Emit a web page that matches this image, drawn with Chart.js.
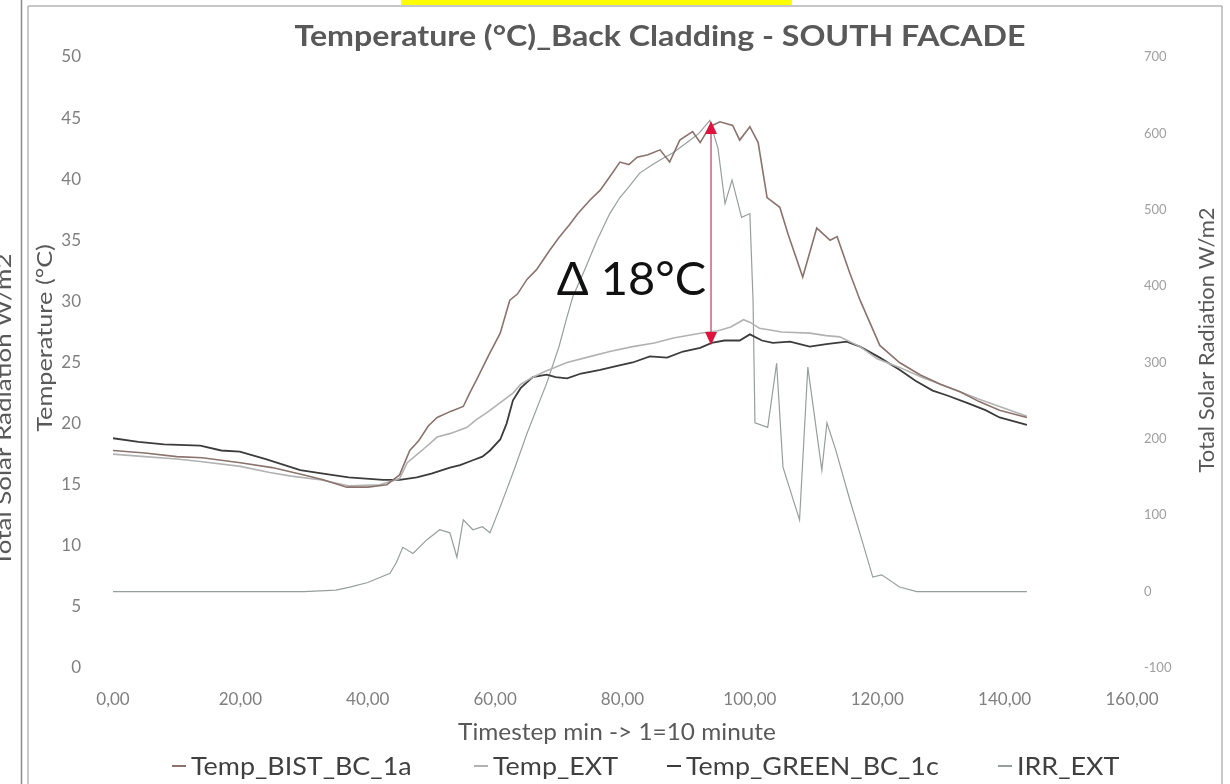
<!DOCTYPE html>
<html>
<head>
<meta charset="utf-8">
<script src="https://cdn.jsdelivr.net/npm/chart.js@4.4.1/dist/chart.umd.min.js"></script>
<style>
  html, body { margin: 0; padding: 0; background: #ffffff; }
  #wrap { position: relative; width: 1230px; height: 784px; overflow: hidden; }
  canvas { display: block; }
  .flag { position: absolute; left: 401px; top: 0; width: 391px; height: 5px; background: #ffff00; }
</style>
</head>
<body>
<div id="wrap">
  <canvas id="chart" width="1230" height="784"></canvas>
  <div class="flag"></div>
</div>
<script>
// Axis ranges and tick steps
const stepMin = 0, stepMax = 160, stepTick = 20;
const tempMin = 0, tempMax = 50, tempTick = 5;
const irrMin = -100, irrMax = 700, irrTick = 100;

const seriesNames = ['Temp_BIST_BC_1a', 'Temp_EXT', 'Temp_GREEN_BC_1c', 'IRR_EXT'];

// Temp_BIST_BC_1a : back cladding temperature (°C)
const bistStep = [0, 5, 10, 14, 20, 25, 30, 33, 36.7, 40, 43, 45, 46.6, 48, 49.5, 50.9, 53, 55, 56, 57.1,
  59, 60.8, 62.3, 63.5, 65, 66.5, 68.6, 70, 71.7, 73, 74.9, 76.5, 78, 79.6, 81, 82.3, 84, 85.9, 87.4, 89,
  91, 92.2, 93.7, 95.3, 97.3, 98.4, 100, 101.3, 102.7, 104.7, 106, 108.3, 110.5, 112.6, 113.7, 115.7,
  117.3, 120.4, 123.5, 126.7, 130, 133, 136, 139.2, 143.5];
const bistTemp = [17.8, 17.6, 17.3, 17.2, 16.8, 16.4, 15.8, 15.4, 14.8, 14.8, 15.0, 15.8, 17.8, 18.6, 19.8, 20.5, 21.0, 21.4, 22.5, 23.6,
  25.6, 27.4, 30.1, 30.6, 31.8, 32.6, 34.2, 35.2, 36.3, 37.2, 38.3, 39.1, 40.2, 41.4, 41.2, 41.8, 42.0, 42.4, 41.4, 43.2,
  43.9, 43.0, 44.3, 44.7, 44.4, 43.2, 44.3, 43.0, 38.5, 37.7, 35.5, 32.0, 36.0, 35.0, 35.3, 32.3,
  30.1, 26.4, 25.0, 24.0, 23.2, 22.6, 21.8, 21.1, 20.5];

// Temp_EXT : outdoor air temperature (°C)
const extStep = [0, 5, 10, 13.7, 20, 24.6, 28, 32.5, 37.2, 41.9, 45, 46.2, 48.5, 50.9, 53, 55.6, 57, 58.7,
  60.5, 62.8, 64, 65.9, 68, 71.3, 75, 78, 81.6, 85, 88, 92.2, 95, 97, 99, 100, 101.5, 102.7, 105, 109.4,
  112, 114.1, 117.3, 120, 123.5, 127, 130, 133, 136, 139.2, 143.5];
const extTemp = [17.5, 17.3, 17.1, 16.9, 16.5, 16.0, 15.7, 15.4, 14.9, 15.0, 15.5, 16.8, 17.8, 18.9, 19.2, 19.7, 20.3, 20.9,
  21.6, 22.5, 23.2, 23.8, 24.3, 25.0, 25.5, 25.9, 26.3, 26.6, 27.0, 27.4, 27.6, 27.9, 28.5, 28.3, 27.8, 27.7, 27.5, 27.4,
  27.2, 27.1, 26.3, 25.3, 24.6, 23.8, 23.2, 22.6, 22.0, 21.4, 20.6];

// Temp_GREEN_BC_1c : green back cladding temperature (°C)
const greenStep = [0, 4, 8, 13.7, 17, 19.9, 24, 29.4, 33, 37, 42.4, 45, 47.7, 50, 52.9, 54.5, 56.5, 58, 59.2,
  60.8, 61.8, 62.8, 64, 65.9, 68.1, 69.5, 71.3, 73.5, 76.5, 79, 81.6, 84.3, 87, 89.5, 92.2, 94, 96, 98.4,
  100, 101.9, 103.6, 106.3, 109.4, 112, 115.2, 117.3, 120.4, 123.5, 126, 128.7, 131, 134.1, 137, 139.2, 143.5];
const greenTemp = [18.8, 18.5, 18.3, 18.2, 17.8, 17.7, 17.1, 16.2, 15.9, 15.6, 15.4, 15.4, 15.6, 15.9, 16.4, 16.6, 17.0, 17.3, 17.8,
  18.7, 20.0, 21.9, 22.9, 23.8, 24.0, 23.8, 23.7, 24.1, 24.4, 24.7, 25.0, 25.5, 25.4, 25.9, 26.2, 26.6, 26.8, 26.8,
  27.3, 26.8, 26.6, 26.7, 26.3, 26.5, 26.7, 26.3, 25.4, 24.4, 23.5, 22.7, 22.3, 21.7, 21.1, 20.5, 19.9];

// IRR_EXT : total solar radiation (W/m2)
const irrStep = [0, 10, 20, 30, 35, 37.2, 40, 43.5, 44.5, 45.5, 47.1, 49.3, 51.3, 52.9, 54, 55, 56.5, 58, 59.2,
  60.8, 63, 65, 68.1, 70, 71.3, 72.2, 74, 76, 78, 79.6, 81, 82.7, 84.5, 85.9, 88, 90.6, 92, 93.7, 95, 96.1,
  97.2, 98.7, 100, 100.5, 100.8, 102.8, 104.2, 105.2, 107.8, 109.1, 111.3, 112.1, 113.5, 115.7, 117.5,
  119.3, 120.7, 123.5, 126.2, 130, 135, 140, 143.5];
const irrValue = [0, 0, 0, 0, 2, 6, 12, 24, 38, 58, 50, 68, 81, 77, 45, 94, 81, 85, 77,
  111, 160, 207, 273, 320, 360, 386, 420, 460, 495, 516, 530, 548, 558, 565, 575, 591, 600, 617, 580, 508,
  539, 490, 495, 381, 221, 215, 299, 163, 94, 294, 159, 221, 185, 120, 70,
  19, 22, 6, 0, 0, 0, 0, 0];

// Temperature gap marked between the back claddings
const gapStep = 93.9;
const gapHigh = 44.6;
const gapSize = 18;

const seriesColors = ['#8a736d', '#b2b2b2', '#3c3c3c', '#979f9c'];
const seriesWidths = [1.6, 1.6, 1.8, 1.2];

const toPoints = (xs, ys) => xs.map((x, i) => ({ x: x, y: ys[i] }));

const TEXT_FONT = 'Lato, "Open Sans", sans-serif';

// text drawn with a horizontal stretch along its own direction
function stretchedText(ctx, txt, x, y, sx, angle) {
  ctx.save();
  ctx.translate(x, y);
  if (angle) ctx.rotate(angle);
  ctx.scale(sx, 1);
  ctx.fillText(txt, 0, 0);
  ctx.restore();
}

const decorPlugin = {
  id: 'decor',
  beforeDraw(chart) {
    const ctx = chart.ctx;
    ctx.save();
    ctx.fillStyle = '#ffffff';
    ctx.fillRect(0, 0, chart.width, chart.height);
    ctx.restore();
  },
  afterDraw(chart) {
    const ctx = chart.ctx;
    const xs = chart.scales.x, ys = chart.scales.y;
    ctx.save();

    // frame lines
    ctx.strokeStyle = '#8c8c8c';
    ctx.lineWidth = 1.5;
    ctx.beginPath(); ctx.moveTo(21.5, 0); ctx.lineTo(21.5, chart.height); ctx.stroke();
    ctx.strokeStyle = '#b4b4b4';
    ctx.beginPath(); ctx.moveTo(28, 6); ctx.lineTo(28, chart.height); ctx.stroke();
    ctx.beginPath(); ctx.moveTo(28, 6); ctx.lineTo(1222, 6); ctx.stroke();
    ctx.beginPath(); ctx.moveTo(1222, 6); ctx.lineTo(1222, chart.height); ctx.stroke();

    // chart title
    ctx.fillStyle = '#595959';
    ctx.font = 'bold 28px ' + TEXT_FONT;
    ctx.textAlign = 'center';
    ctx.textBaseline = 'middle';
    stretchedText(ctx, 'Temperature (°C)_Back Cladding - SOUTH FACADE', 660, 37, 1.148);

    // x axis title
    ctx.font = '23px ' + TEXT_FONT;
    stretchedText(ctx, 'Timestep min -> 1=10 minute', 617, 733, 1.06);

    // rotated axis titles
    ctx.font = '22px ' + TEXT_FONT;
    stretchedText(ctx, 'Temperature (°C)', 45, 338, 1.15, -Math.PI / 2);
    stretchedText(ctx, 'Total Solar Radiation W/m2', 1207, 340, 1.0, -Math.PI / 2);
    stretchedText(ctx, 'Total Solar Radiation W/m2', 4, 410, 1.18, -Math.PI / 2);

    // legend
    const legendMarks = [172, 474, 667, 998];
    ctx.font = '25px ' + TEXT_FONT;
    ctx.textAlign = 'left';
    chart.data.datasets.forEach((ds, i) => {
      const mx = legendMarks[i];
      ctx.strokeStyle = ds.borderColor;
      ctx.lineWidth = 2;
      ctx.beginPath(); ctx.moveTo(mx, 766); ctx.lineTo(mx + 14, 766); ctx.stroke();
      ctx.fillStyle = '#404040';
      stretchedText(ctx, ds.label, mx + 19, 767, 1.075);
    });

    // gap arrow
    const ax = xs.getPixelForValue(gapStep);
    const aTop = ys.getPixelForValue(gapHigh);
    const aBot = ys.getPixelForValue(gapHigh - gapSize);
    ctx.strokeStyle = '#c04a72';
    ctx.lineWidth = 1.3;
    ctx.beginPath(); ctx.moveTo(ax, aTop + 8); ctx.lineTo(ax, aBot - 8); ctx.stroke();
    ctx.fillStyle = '#e0123e';
    ctx.beginPath(); ctx.moveTo(ax, aTop - 2); ctx.lineTo(ax - 6, aTop + 11); ctx.lineTo(ax + 6, aTop + 11); ctx.closePath(); ctx.fill();
    ctx.beginPath(); ctx.moveTo(ax, aBot + 2); ctx.lineTo(ax - 6, aBot - 11); ctx.lineTo(ax + 6, aBot - 11); ctx.closePath(); ctx.fill();

    // gap label
    ctx.fillStyle = '#111111';
    ctx.font = '47px ' + TEXT_FONT;
    ctx.textAlign = 'right';
    ctx.textBaseline = 'middle';
    ctx.fillText('Δ ' + gapSize + '°C', ax - 5, 280);

    ctx.restore();
  }
};

const tickFont = { family: TEXT_FONT, size: 17 };

new Chart(document.getElementById('chart'), {
  type: 'scatter',
  data: {
    datasets: [
      { label: seriesNames[0], data: toPoints(bistStep, bistTemp), yAxisID: 'y' },
      { label: seriesNames[1], data: toPoints(extStep, extTemp), yAxisID: 'y' },
      { label: seriesNames[2], data: toPoints(greenStep, greenTemp), yAxisID: 'y' },
      { label: seriesNames[3], data: toPoints(irrStep, irrValue), yAxisID: 'y1' }
    ].map((ds, i) => Object.assign(ds, {
      showLine: true,
      borderColor: seriesColors[i],
      backgroundColor: seriesColors[i],
      borderWidth: seriesWidths[i],
      pointRadius: 0,
      tension: 0
    }))
  },
  options: {
    responsive: false,
    animation: false,
    layout: { padding: { top: 57, left: 0, right: 0, bottom: 0 } },
    plugins: {
      legend: { display: false },
      title: { display: false },
      tooltip: { enabled: false }
    },
    scales: {
      x: {
        type: 'linear',
        min: stepMin, max: stepMax,
        grid: { display: false },
        border: { display: false },
        ticks: {
          stepSize: stepTick,
          padding: 13,
          color: '#7f7f7f',
          font: tickFont,
          maxRotation: 0,
          callback: v => v.toFixed(2).replace('.', ',')
        },
        afterFit: s => { s.height = 116; }
      },
      y: {
        position: 'left',
        min: tempMin, max: tempMax,
        grid: { display: false },
        border: { display: false },
        ticks: { stepSize: tempTick, padding: 24, color: '#7f7f7f', font: tickFont },
        afterFit: s => { s.width = 113; }
      },
      y1: {
        position: 'right',
        min: irrMin, max: irrMax,
        grid: { display: false },
        border: { display: false },
        ticks: { stepSize: irrTick, padding: 4, color: '#a0a0a0', font: { family: TEXT_FONT, size: 13 } },
        afterFit: s => { s.width = 98; }
      }
    }
  },
  plugins: [decorPlugin]
});
</script>
</body>
</html>
